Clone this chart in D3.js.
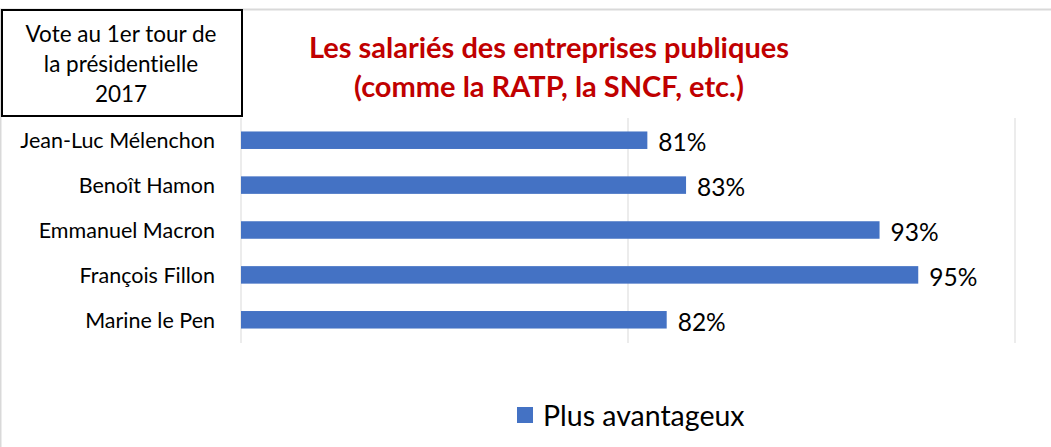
<!DOCTYPE html>
<html>
  <head>
    <meta charset="UTF-8">
    <style>
      body { margin: 0; background: #fff; }
      svg text { font-family: Lato, sans-serif; fill: #000; font-variant-ligatures: none; }
    </style>
    <script src="https://d3js.org/d3.v7.min.js"></script>
  </head>
  <body>
    <script>
      var candidates = ["Jean-Luc Mélenchon", "Benoît Hamon", "Emmanuel Macron", "François Fillon", "Marine le Pen"];
      var values = [81, 83, 93, 95, 82];
      var gridTicks = [60, 80, 100];
      var titleLines = ["Les salariés des entreprises publiques", "(comme la RATP, la SNCF, etc.)"];
      var boxLines = ["Vote au 1er tour de", "la présidentielle", "2017"];
      var seriesName = "Plus avantageux";

      var width = 1051, height = 447;
      var svg = d3.select("body").append("svg")
        .attr("width", width)
        .attr("height", height);

      // chart frame
      svg.append("rect")
        .attr("x", 0.5).attr("y", 9.5)
        .attr("width", width + 10).attr("height", height)
        .attr("fill", "none").attr("stroke", "#d9d9d9").attr("stroke-width", 2);

      var x = d3.scaleLinear().domain([60, 100]).range([241, 1015]);
      var y = d3.scaleBand().domain(candidates).range([118, 342]).paddingInner(0.61).paddingOuter(0.3);

      // gridlines
      svg.append("g").selectAll("line")
        .data(gridTicks)
        .enter().append("line")
        .attr("x1", function(d) { return x(d); })
        .attr("x2", function(d) { return x(d); })
        .attr("y1", 118).attr("y2", 343)
        .attr("stroke", "#d9d9d9").attr("stroke-width", 1);

      // bars
      svg.append("g").selectAll("rect")
        .data(values)
        .enter().append("rect")
        .attr("x", x(60))
        .attr("y", function(d, i) { return y(candidates[i]); })
        .attr("width", function(d) { return x(d) - x(60); })
        .attr("height", y.bandwidth())
        .attr("fill", "#4472c4");

      // value labels
      svg.append("g").selectAll("text")
        .data(values)
        .enter().append("text")
        .attr("x", function(d) { return x(d) + 11; })
        .attr("y", function(d, i) { return y(candidates[i]) + y.bandwidth() / 2 + 2; })
        .attr("dy", ".36em")
        .style("font-size", "24.5px")
        .text(function(d) { return d + "%"; });

      // category labels
      svg.append("g").selectAll("text")
        .data(candidates)
        .enter().append("text")
        .attr("x", 215)
        .attr("y", function(d) { return y(d) + y.bandwidth() / 2; })
        .attr("dy", ".36em")
        .attr("text-anchor", "end")
        .style("font-size", "21.5px")
        .text(function(d) { return d; });

      // title
      svg.append("g").selectAll("text")
        .data(titleLines)
        .enter().append("text")
        .attr("x", 549)
        .attr("y", function(d, i) { return 58 + i * 39; })
        .attr("text-anchor", "middle")
        .style("font-size", "29px")
        .style("font-weight", "bold")
        .style("fill", "#c00000")
        .text(function(d) { return d; });

      // box top left
      svg.append("rect")
        .attr("x", 2).attr("y", 10)
        .attr("width", 240).attr("height", 106)
        .attr("fill", "#fff").attr("stroke", "#000").attr("stroke-width", 2);
      svg.append("g").selectAll("text")
        .data(boxLines)
        .enter().append("text")
        .attr("x", 121)
        .attr("y", function(d, i) { return 42 + i * 30; })
        .attr("text-anchor", "middle")
        .style("font-size", "22.5px")
        .text(function(d) { return d; });

      // legend
      var legend = svg.append("g");
      legend.append("rect")
        .attr("x", 517).attr("y", 407)
        .attr("width", 16).attr("height", 16)
        .attr("fill", "#4472c4");
      legend.append("text")
        .attr("x", 543).attr("y", 416)
        .attr("dy", ".36em")
        .style("font-size", "28.5px")
        .text(seriesName);
    </script>
  </body>
</html>
